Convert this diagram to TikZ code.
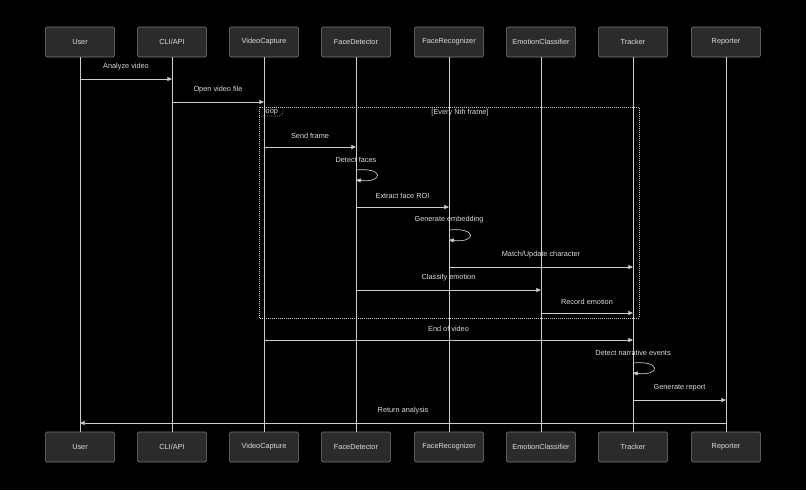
\documentclass[tikz,border=0pt]{standalone}
\usepackage{fontspec}
\setmainfont{Liberation Sans}
\usetikzlibrary{arrows.meta, calc}
\definecolor{bg}{HTML}{000000}
\definecolor{boxfill}{HTML}{2B2B2B}
\definecolor{boxline}{HTML}{7A7A7A}
\definecolor{txt}{HTML}{DDDDDD}
\definecolor{wire}{HTML}{CCCCCC}
\tikzset{
  actor/.style={draw=boxline, fill=boxfill, rounded corners=1pt, minimum width=52pt, minimum height=22.5pt, text=txt, font=\fontsize{5.5}{6}\selectfont},
  life/.style={draw=wire, line width=0.5pt},
  msg/.style={draw=wire, line width=0.5pt, -{Triangle[length=3.5pt, width=3pt]}},
  lbl/.style={text=txt, font=\fontsize{5.5}{6}\selectfont},
  loopbox/.style={draw=wire, densely dotted, line width=0.5pt}
}
\begin{document}
\begin{tikzpicture}[x=0.75pt, y=-0.75pt]
\fill[bg] (0,0) rectangle (806,490);
\useasboundingbox (0,0) rectangle (806,490);
% participants
\foreach \n/\x/\t in {user/80/User, cli/172/{CLI/API}, cap/264/VideoCapture, det/356/FaceDetector,
                      rec/449/FaceRecognizer, emo/541/EmotionClassifier, trk/633/Tracker, rep/726/Reporter}{
  \node[actor] (\n-top) at (\x,42) {\t};
  \node[actor] (\n-bot) at (\x,447) {\t};
  \draw[life] (\n-top) -- (\n-bot);
}
% loop frame
\draw[loopbox] (259,107) rectangle (639,318);
\draw[loopbox] (259,116) -- (280,116) -- (283,113) -- (283,107);
\node[lbl] (looptag) at (271,111.5) {loop};
\node[lbl] (loopcond) at (460,113) {[Every Nth frame]};
% message points
\foreach \n/\x/\y in {a1/80/79, a2/172/79, b1/172/102, b2/264/102, c1/264/147, c2/356/147,
                      d1/356/207, d2/449/207, e1/449/267, e2/633/267, f1/356/290, f2/541/290,
                      g1/541/313, g2/633/313, h1/264/340, h2/633/340, i1/633/400, i2/726/400,
                      j1/726/423, j2/80/423, s1/356/170, s2/356/180, t1/449/230, t2/449/240,
                      u1/633/363, u2/633/373}
  \coordinate (\n) at (\x,\y);
% messages
\draw[msg] (a1) -- node[lbl, above=3pt] {Analyze video} (a2);
\draw[msg] (b1) -- node[lbl, above=3pt] {Open video file} (b2);
\draw[msg] (c1) -- node[lbl, above=3pt] {Send frame} (c2);
\draw[msg] (s1) .. controls ($(s1)+(28,-3)$) and ($(s2)+(28,3)$) .. (s2);
\node[lbl] (slbl) at (356,160) {Detect faces};
\draw[msg] (d1) -- node[lbl, above=3pt] {Extract face ROI} (d2);
\draw[msg] (t1) .. controls ($(t1)+(28,-3)$) and ($(t2)+(28,3)$) .. (t2);
\node[lbl] (tlbl) at (449,220) {Generate embedding};
\draw[msg] (e1) -- node[lbl, above=3pt] {Match/Update character} (e2);
\draw[msg] (f1) -- node[lbl, above=3pt] {Classify emotion} (f2);
\draw[msg] (g1) -- node[lbl, above=3pt] {Record emotion} (g2);
\draw[msg] (h1) -- node[lbl, above=3pt] {End of video} (h2);
\draw[msg] (u1) .. controls ($(u1)+(28,-3)$) and ($(u2)+(28,3)$) .. (u2);
\node[lbl] (ulbl) at (633,353) {Detect narrative events};
\draw[msg] (i1) -- node[lbl, above=3pt] {Generate report} (i2);
\draw[msg] (j1) -- node[lbl, above=3pt] {Return analysis} (j2);
\end{tikzpicture}
\end{document}
